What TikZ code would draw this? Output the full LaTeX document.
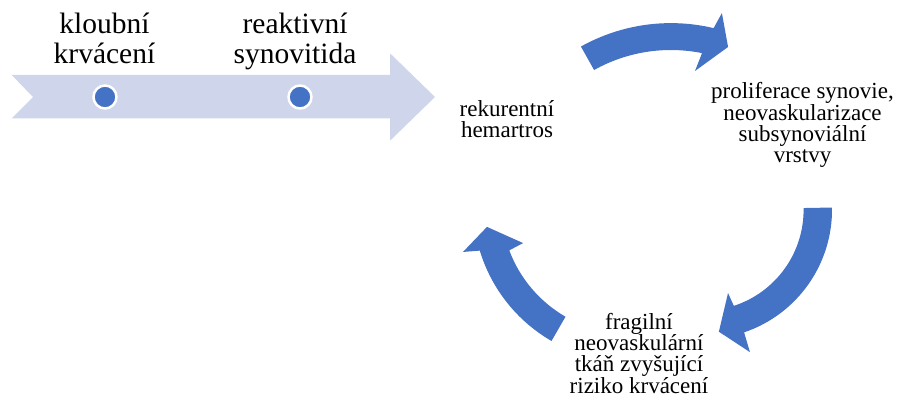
\documentclass[tikz,border=0pt]{standalone}
\usepackage{fontspec}
\setmainfont{Liberation Serif}
\definecolor{lav}{RGB}{207,213,234}
\definecolor{sblue}{RGB}{68,114,196}
\begin{document}
\begin{tikzpicture}[x=1pt,y=1pt,
  bigtext/.style={font=\fontsize{29.5}{30}\selectfont, align=center, anchor=base, inner sep=0pt},
  cyctext/.style={font=\fontsize{23}{21.2}\selectfont, align=center, anchor=base, inner sep=0pt},
  dotnode/.style={circle, fill=sblue, draw=white, line width=2.5pt, minimum size=23pt, inner sep=0pt},
  cycarrow/.style={fill=sblue}]
\useasboundingbox (0,0) rectangle (897,-404);
% timeline arrow
\fill[lav] (11.7,-75) -- (390,-75) -- (390,-53.3) -- (435,-97) -- (390,-140.7)
  -- (390,-118.3) -- (11.7,-118.3) -- (33,-97) -- cycle;
\node[dotnode] (d1) at (105,-97) {};
\node[dotnode] (d2) at (300,-97) {};
% the base anchor sits on the last line's baseline
\node[bigtext] (t1) at (104.5,-63.3) {kloubní\\krvácení};
\node[bigtext] (t2) at (295,-63.3) {reaktivní\\synovitida};
% cycle texts
\node[cyctext] (c1) at (507,-137.7) {rekurentní\\hemartros};
\node[cyctext] (c2) at (802.5,-162.5) {proliferace synovie,\\neovaskularizace\\subsynoviální\\vrstvy};
\node[cyctext] (c3) at (639,-393) {fragilní\\neovaskulární\\tkáň zvyšující\\riziko krvácení};
% top arrow
\begin{scope}[shift={(670.9,-207.5)}]
\fill[cycarrow] (119.2:184.4) arc[start angle=119.2, end angle=76.6, radius=184.4]
  -- (75.3:201) -- (70.4:170.4) -- (80:138.6) -- (78.6:157.5)
  arc[start angle=78.6, end angle=119.2, radius=157.5] -- cycle;
\end{scope}
% right arrow
\begin{scope}[shift={(702.6,-209.8)}]
\fill[cycarrow] (1:129.4) arc[start angle=1, end angle=-71.3, radius=129.4]
  -- (-71.6:150) -- (-82.4:123) -- (-73:87) -- (-72:101)
  arc[start angle=-72, end angle=1, radius=101] -- cycle;
\end{scope}
% left arrow
\begin{scope}[shift={(630,-205)}]
\fill[cycarrow] (240:157) arc[start angle=240, end angle=196.9, radius=157]
  -- (195.7:173.5) -- (188.7:144.7) -- (199.6:113.5) -- (200.6:129)
  arc[start angle=200.6, end angle=240, radius=129] -- cycle;
\end{scope}
\end{tikzpicture}
\end{document}
